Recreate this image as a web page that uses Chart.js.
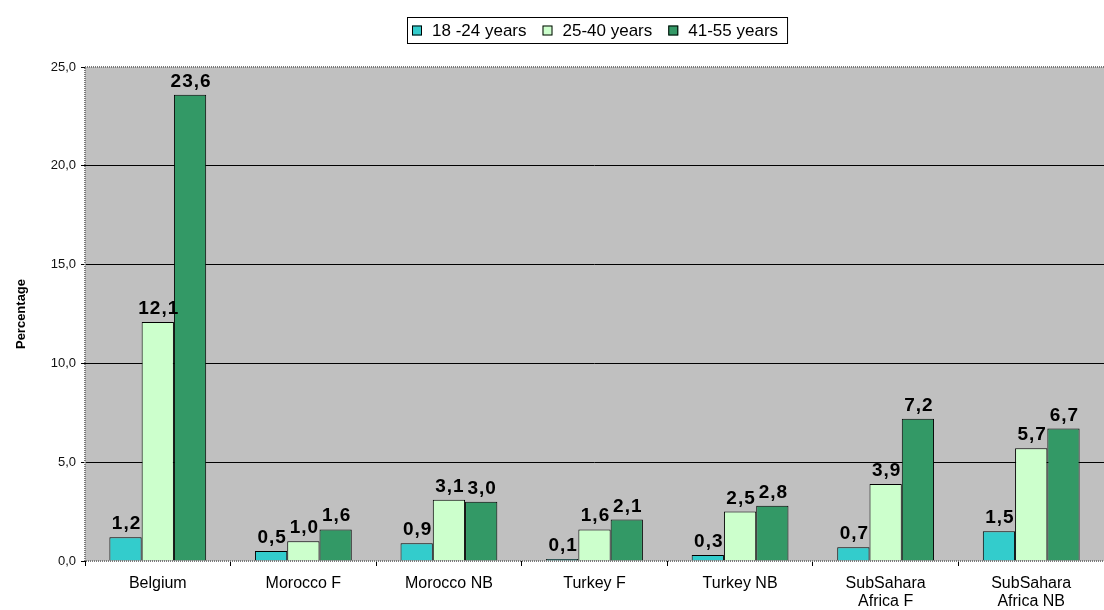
<!DOCTYPE html>
<html>
<head>
<meta charset="utf-8">
<script src="https://cdn.jsdelivr.net/npm/chart.js@4/dist/chart.umd.min.js"></script>
<style>
  html, body { margin: 0; padding: 0; background: #fff; }
  #wrap { width: 1104px; height: 610px; position: relative; }
</style>
</head>
<body>
<div id="wrap"><canvas id="chart"></canvas></div>
<script>
// データ
const categories = [
  'Belgium', 'Morocco F', 'Morocco NB', 'Turkey F', 'Turkey NB',
  ['SubSahara', 'Africa F'], ['SubSahara', 'Africa NB']
];
const seriesLabels = ['18 -24 years', '25-40 years', '41-55 years'];
const seriesColors = ['#33CCCC', '#CCFFCC', '#339966'];
const age18to24 = [1.2, 0.5, 0.9, 0.1, 0.3, 0.7, 1.5];
const age25to40 = [12.1, 1.0, 3.1, 1.6, 2.5, 3.9, 5.7];
const age41to55 = [23.6, 1.6, 3.0, 2.1, 2.8, 7.2, 6.7];
const yTicks = [0, 5, 10, 15, 20, 25];

const fmt = v => v.toFixed(1).replace('.', ',');
const FONT = '"Liberation Sans", Arial, sans-serif';

// プロット領域の背景と点線枠
const plotArea = {
  id: 'plotArea',
  beforeDraw(chart) {
    const { ctx, chartArea: a } = chart;
    ctx.save();
    ctx.fillStyle = '#C0C0C0';
    ctx.fillRect(a.left, a.top, a.right - a.left, a.bottom - a.top);
    ctx.restore();
  },
  afterDatasetsDraw(chart) {
    const { ctx, chartArea: a } = chart;
    ctx.save();
    ctx.strokeStyle = '#7a7a7a';
    ctx.lineWidth = 2;
    ctx.setLineDash([1, 1]);
    ctx.strokeRect(a.left, a.top, a.right - a.left + 2, a.bottom - a.top);
    ctx.restore();
  }
};

// 値ラベル
const valueLabels = {
  id: 'valueLabels',
  afterDatasetsDraw(chart) {
    const { ctx } = chart;
    ctx.save();
    ctx.font = 'bold 19px ' + FONT;
    ctx.letterSpacing = '1px';
    ctx.fillStyle = '#000';
    ctx.textAlign = 'center';
    ctx.textBaseline = 'alphabetic';
    chart.data.datasets.forEach((ds, i) => {
      chart.getDatasetMeta(i).data.forEach((bar, j) => {
        ctx.fillText(fmt(ds.data[j]), bar.x + 1, bar.y - 8);
      });
    });
    ctx.restore();
  }
};

// 凡例（枠付き）
const boxedLegend = {
  id: 'boxedLegend',
  afterDraw(chart) {
    const { ctx } = chart;
    ctx.save();
    ctx.font = '17px ' + FONT;
    const gap = 16, sw = 10, tgap = 10;
    const widths = seriesLabels.map(t => sw + tgap + ctx.measureText(t).width);
    const inner = widths.reduce((s, w) => s + w, 0) + gap * (widths.length - 1);
    const left = 407, top = 17, h = 26;
    const boxW = inner + 14;
    ctx.fillStyle = '#fff';
    ctx.fillRect(left, top, boxW, h);
    ctx.strokeStyle = '#000';
    ctx.lineWidth = 1;
    ctx.strokeRect(left + 0.5, top + 0.5, boxW, h);
    let x = left + 5;
    const cy = top + h / 2 + 0.5;
    seriesLabels.forEach((t, i) => {
      ctx.fillStyle = seriesColors[i];
      ctx.fillRect(x, cy - 5, sw, sw);
      ctx.strokeStyle = '#000';
      ctx.strokeRect(x + 0.5, cy - 4.5, sw - 1, sw - 1);
      ctx.fillStyle = '#000';
      ctx.textBaseline = 'middle';
      ctx.fillText(t, x + sw + tgap, cy + 1);
      x += widths[i] + gap;
    });
    ctx.restore();
  }
};

const datasets = [age18to24, age25to40, age41to55].map((d, i) => ({
  label: seriesLabels[i],
  data: d,
  backgroundColor: seriesColors[i],
  borderColor: '#000',
  borderWidth: 1,
  categoryPercentage: 0.665,
  barPercentage: 1.0
}));

new Chart(document.getElementById('chart'), {
  type: 'bar',
  data: { labels: categories, datasets },
  options: {
    responsive: true,
    maintainAspectRatio: false,
    animation: false,
    layout: { padding: { top: 67, right: 0, bottom: 0, left: 0 } },
    plugins: {
      legend: { display: false },
      tooltip: { enabled: false }
    },
    scales: {
      x: {
        offset: true,
        grid: {
          offset: true,
          drawOnChartArea: false,
          drawTicks: true,
          tickLength: 5,
          color: '#000'
        },
        border: { display: false },
        ticks: {
          color: '#000',
          font: { family: FONT, size: 16, lineHeight: 1.12 },
          padding: 9,
          maxRotation: 0,
          autoSkip: false
        },
        afterFit(scale) { scale.height = 49; }
      },
      y: {
        min: 0,
        max: 25,
        afterBuildTicks(scale) {
          scale.ticks = yTicks.map(v => ({ value: v }));
        },
        grid: {
          color: ctx => (ctx.tick && (ctx.tick.value === 0 || ctx.tick.value === 25)) ? 'rgba(0,0,0,0)' : '#000',
          tickColor: '#000',
          lineWidth: 1,
          drawTicks: true,
          tickLength: 4
        },
        border: { display: false },
        ticks: {
          color: '#111',
          font: { family: FONT, size: 13 },
          padding: 5,
          callback: v => fmt(v)
        },
        title: {
          display: true,
          text: 'Percentage',
          color: '#000',
          font: { family: FONT, size: 13, weight: 'bold' },
          padding: { top: 14, bottom: 0 }
        },
        afterFit(scale) { scale.width = 85; }
      }
    }
  },
  plugins: [plotArea, valueLabels, boxedLegend]
});
</script>
</body>
</html>
